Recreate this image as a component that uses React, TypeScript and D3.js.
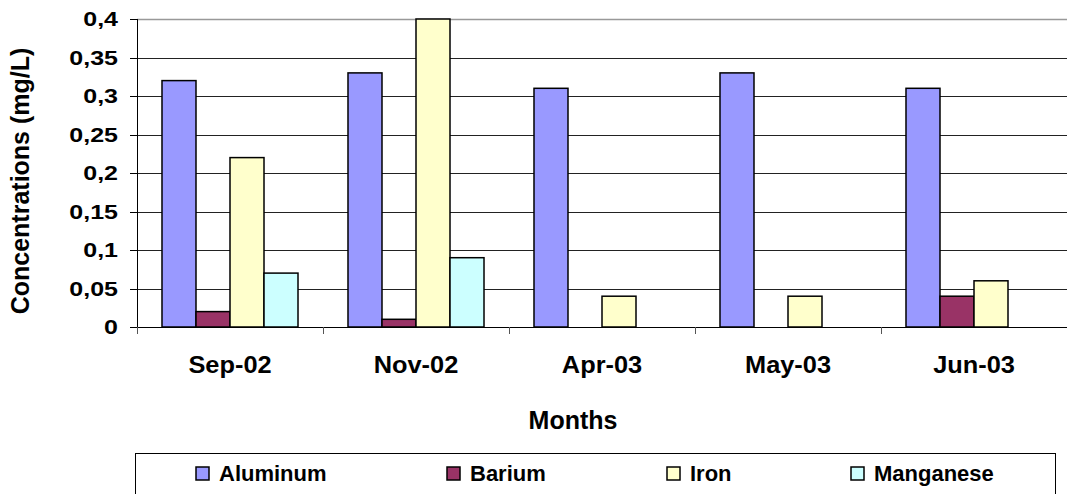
import React from "react";
import * as d3 from "d3";

const months = ["Sep-02", "Nov-02", "Apr-03", "May-03", "Jun-03"];
const seriesNames = ["Aluminum", "Barium", "Iron", "Manganese"];
const aluminum = [0.32, 0.33, 0.31, 0.33, 0.31];
const barium = [0.02, 0.01, 0, 0, 0.04];
const iron = [0.22, 0.4, 0.04, 0.04, 0.06];
const manganese = [0.07, 0.09, 0, 0, 0];
const yTicks = [0, 0.05, 0.1, 0.15, 0.2, 0.25, 0.3, 0.35, 0.4];
const colors = ["#9999FF", "#993366", "#FFFFCC", "#CCFFFF"];

const W = 1067;
const H = 494;
const left = 137;
const right = 1067;
const top = 19;
const bottom = 327;
const font = "'Liberation Sans', Arial, sans-serif";

export default function App() {
  const values = [aluminum, barium, iron, manganese];
  const x0 = d3.scaleBand<string>().domain(months).range([left, right]).padding(0);
  const x1 = d3
    .scaleBand<string>()
    .domain(seriesNames)
    .range([0, x0.bandwidth()])
    .paddingInner(0)
    .paddingOuter(0.735);
  const y = d3.scaleLinear().domain([0, 0.4]).range([bottom, top]);
  const fmt = (v: number) => String(+v.toFixed(2)).replace(".", ",");

  const legendX = [196, 447, 667, 851];

  return (
    <svg
      width={W}
      height={H}
      style={{ position: "absolute", left: 0, top: 0, background: "#fff" }}
      fontFamily={font}
      fontWeight="bold"
    >
      {/* gridlines */}
      {yTicks.map((t) => (
        <line
          key={"g" + t}
          x1={left}
          x2={right}
          y1={Math.round(y(t)) + 0.5}
          y2={Math.round(y(t)) + 0.5}
          stroke={t === 0.4 ? "#999" : "#222"}
          strokeWidth={t === 0.4 ? 1.5 : 1}
        />
      ))}
      {/* bars */}
      {months.map((m, i) => (
        <g key={m} transform={`translate(${x0(m)},0)`}>
          {seriesNames.map((s, j) => {
            const v = values[j][i];
            if (!v) return null;
            return (
              <rect
                key={s}
                x={x1(s)}
                y={y(v)}
                width={x1.bandwidth()}
                height={bottom - y(v)}
                fill={colors[j]}
                stroke="#000"
                strokeWidth={1.5}
              />
            );
          })}
        </g>
      ))}
      {/* y axis */}
      <line x1={left + 0.5} x2={left + 0.5} y1={top} y2={bottom} stroke="#000" strokeWidth={1} />
      {yTicks.map((t) => (
        <g key={"t" + t}>
          <line
            x1={left - 7}
            x2={left}
            y1={Math.round(y(t)) + 0.5}
            y2={Math.round(y(t)) + 0.5}
            stroke="#000"
          />
          <text
            transform={`translate(118,${y(t)}) scale(1.25,1)`}
            dy="0.36em"
            textAnchor="end"
            fontSize={20}
            fill="#000"
          >
            {fmt(t)}
          </text>
        </g>
      ))}
      {/* x axis */}
      <line x1={left} x2={right} y1={bottom + 0.5} y2={bottom + 0.5} stroke="#000" />
      {months.map((m) => (
        <line
          key={"xt" + m}
          x1={Math.round(x0(m)!) + 0.5}
          x2={Math.round(x0(m)!) + 0.5}
          y1={bottom}
          y2={bottom + 7}
          stroke="#555"
        />
      ))}
      {months.map((m) => (
        <text
          key={"xl" + m}
          transform={`translate(${x0(m)! + x0.bandwidth() / 2},373) scale(1.08,1)`}
          textAnchor="middle"
          fontSize={23.5}
          fill="#000"
        >
          {m}
        </text>
      ))}
      {/* axis titles */}
      <text x={573} y={429} textAnchor="middle" fontSize={25} fill="#000">
        Months
      </text>
      <text
        transform={`translate(29,181) rotate(-90)`}
        textAnchor="middle"
        fontSize={25}
        fill="#000"
      >
        Concentrations (mg/L)
      </text>
      {/* legend */}
      <rect x={135.5} y={453.5} width={920} height={60} fill="#fff" stroke="#000" strokeWidth={1} />
      {seriesNames.map((s, j) => (
        <g key={"lg" + s}>
          <rect
            x={legendX[j]}
            y={467}
            width={13}
            height={13}
            fill={colors[j]}
            stroke="#000"
            strokeWidth={1.5}
          />
          <text x={legendX[j] + 23} y={481} fontSize={22} fill="#000">
            {s}
          </text>
        </g>
      ))}
    </svg>
  );
}
